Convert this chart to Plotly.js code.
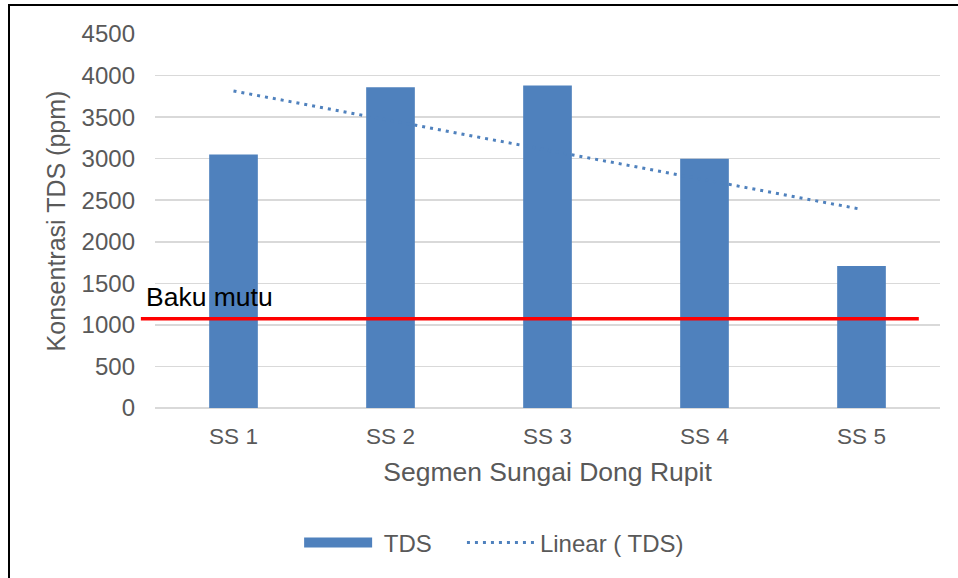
<!DOCTYPE html>
<html>
<head>
<meta charset="utf-8">
<script src="https://cdn.plot.ly/plotly-3.0.1.min.js"></script>
<style>
  html, body { margin: 0; padding: 0; background: #fff; }
  #wrap { position: relative; width: 958px; height: 578px; }
  #chart { position: absolute; left: 0; top: 0; width: 958px; height: 578px; }
  #frame { position: absolute; left: 8px; top: 4px; right: -4px; bottom: -4px;
           border-left: 2.5px solid #000; border-top: 2.5px solid #000; pointer-events: none; }
</style>
</head>
<body>
<div id="wrap">
  <div id="chart"></div>
  <div id="frame"></div>
</div>
<script>
// Data
const categories = ['SS 1', 'SS 2', 'SS 3', 'SS 4', 'SS 5'];
const tdsValues = [3050, 3860, 3880, 3000, 1710];
const trendCategories = ['SS 1', 'SS 5'];
const trendValues = [3815, 2390];
const bakuMutu = 1075;
const yTickValues = [0, 500, 1000, 1500, 2000, 2500, 3000, 3500, 4000, 4500];

const BLUE = '#4f81bd';
const TEXT = '#595959';
const FONT = 'Liberation Sans, Arial, sans-serif';

const traces = [
  {
    type: 'bar',
    x: categories,
    y: tdsValues,
    width: 0.31,
    marker: { color: BLUE },
    showlegend: false,
    hoverinfo: 'x+y'
  },
  {
    // legend proxy for the bar series (wide swatch)
    type: 'scatter',
    mode: 'lines',
    x: [null],
    y: [null],
    name: '\u00a0TDS',
    line: { color: BLUE, width: 13 },
    showlegend: true,
    legend: 'legend'
  },
  {
    type: 'scatter',
    mode: 'lines',
    x: trendCategories,
    y: trendValues,
    name: 'Linear ( TDS)',
    line: { color: BLUE, width: 3, dash: '3px,5px' },
    legend: 'legend2'
  }
];

const legendBase = {
  orientation: 'h',
  yanchor: 'middle',
  xanchor: 'left',
  y: -0.361,
  font: { family: FONT, size: 24, color: TEXT },
  itemwidth: 68,
  bgcolor: 'rgba(0,0,0,0)'
};

const layout = {
  width: 958,
  height: 578,
  margin: { l: 155, r: 18, t: 34, b: 168 },
  paper_bgcolor: '#ffffff',
  plot_bgcolor: '#ffffff',
  font: { family: FONT, size: 22, color: TEXT },
  showlegend: true,
  legend: Object.assign({}, legendBase, { x: 0.1836 }),
  legend2: Object.assign({}, legendBase, { x: 0.391 }),
  xaxis: {
    type: 'category',
    range: [-0.5, 4.5],
    showgrid: false,
    showline: false,
    zeroline: false,
    ticks: '',
    ticklabelstandoff: 12,
    tickfont: { family: FONT, size: 22.5, color: TEXT },
    title: {
      text: 'Segmen Sungai Dong Rupit',
      font: { family: FONT, size: 26.5, color: TEXT },
      standoff: 14
    }
  },
  yaxis: {
    range: [0, 4500],
    tickvals: yTickValues,
    ticktext: yTickValues.map(String),
    showgrid: true,
    gridcolor: '#d9d9d9',
    gridwidth: 1.5,
    zeroline: true,
    zerolinecolor: '#d9d9d9',
    zerolinewidth: 1.5,
    showline: false,
    ticks: '',
    ticklabelstandoff: 19,
    tickfont: { family: FONT, size: 24, color: TEXT },
    title: {
      text: 'Konsentrasi TDS (ppm)',
      font: { family: FONT, size: 25, color: TEXT },
      standoff: 8
    }
  },
  shapes: [
    {
      type: 'line',
      xref: 'paper',
      yref: 'y',
      x0: -0.018,
      x1: 0.973,
      y0: bakuMutu,
      y1: bakuMutu,
      line: { color: '#ff0000', width: 3.5 },
      layer: 'above'
    }
  ],
  annotations: [
    {
      text: 'Baku mutu',
      xref: 'paper',
      yref: 'y',
      x: -0.014,
      y: bakuMutu,
      xanchor: 'left',
      yanchor: 'middle',
      yshift: 22,
      showarrow: false,
      font: { family: FONT, size: 26.5, color: '#000000' }
    }
  ]
};

Plotly.newPlot('chart', traces, layout, { displayModeBar: false, staticPlot: true });
</script>
</body>
</html>
